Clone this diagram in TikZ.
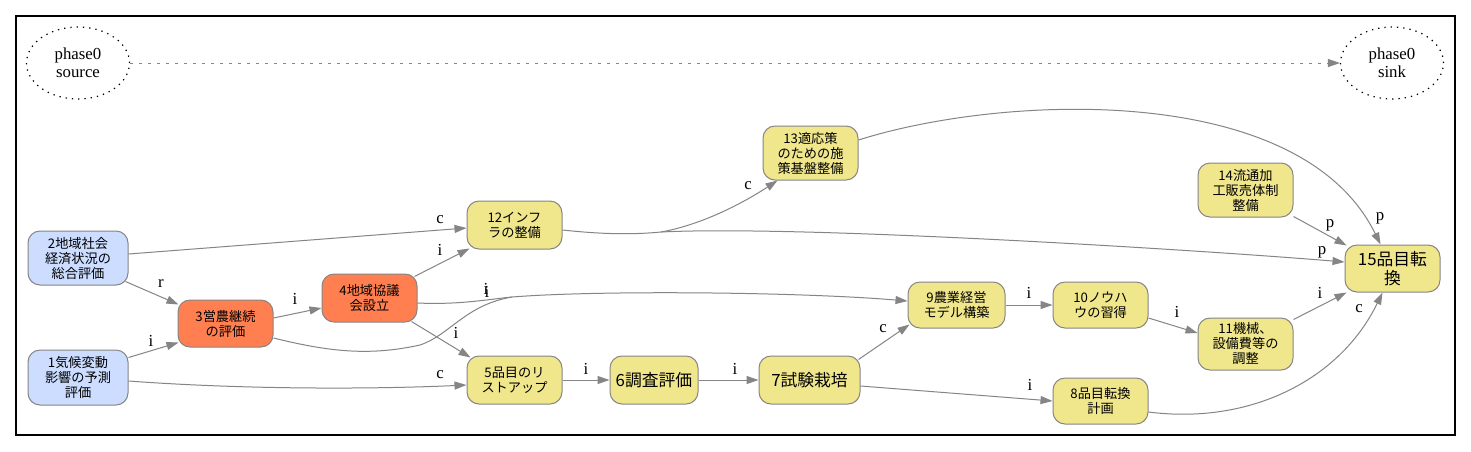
\documentclass[tikz,border=0pt]{standalone}
\usepackage{fontspec}
\setmainfont{Liberation Serif}
\newfontfamily\jpfont{Noto Sans CJK JP}
\usetikzlibrary{arrows.meta,shapes.geometric}
\definecolor{nblue}{HTML}{CCDDFF}
\definecolor{norange}{HTML}{FF7F50}
\definecolor{nyellow}{HTML}{F0E68C}
\definecolor{ngray}{HTML}{858585}
\tikzset{
  box/.style={draw=ngray, line width=1pt, rounded corners=12pt, align=center,
    font=\jpfont\fontsize{13.2}{15}\selectfont, inner sep=0pt,
    minimum width=95pt, minimum height=48pt},
  bigbox/.style={box, font=\jpfont\fontsize{16.8}{19}\selectfont},
  bluebox/.style={fill=nblue},
  orangebox/.style={fill=norange},
  yellowbox/.style={fill=nyellow},
  edge/.style={draw=ngray, line width=1pt, -{Triangle[length=12pt,width=8pt]}},
  plainline/.style={draw=ngray, line width=1pt},
  lbl/.style={font=\fontsize{16.8}{18}\selectfont, inner sep=0pt},
  phase/.style={ellipse, draw=black, line width=1.2pt, dash pattern=on 1.3pt off 5pt,
    align=center, font=\fontsize{16.8}{18}\selectfont, inner sep=0pt,
    minimum width=103pt, minimum height=72pt},
  dotedge/.style={draw=ngray, line width=1pt, dash pattern=on 3pt off 6pt,
    -{Triangle[length=12pt,width=8pt]}},
}
\begin{document}
\begin{tikzpicture}[x=1pt,y=-1pt]
\useasboundingbox (0,0) rectangle (1471,451);
\fill[white] (0,0) rectangle (1471,451);
\draw[line width=1.2pt] (16,16) rectangle (1455,435);

% phase nodes
\node[phase] (src) at (78,63) {phase0\\source};
\node[phase] (snk) at (1392,63) {phase0\\sink};
\draw[dotedge] (src) -- (snk);

% process nodes
\node[box,bluebox,minimum width=100pt,minimum height=54pt] (n2) at (78,258) {2地域社会\\経済状況の\\総合評価};
\node[box,bluebox,minimum width=100pt,minimum height=55pt] (n1) at (78,377.5) {1気候変動\\影響の予測\\評価};
\node[box,orangebox,minimum height=47pt] (n3) at (225.5,323.5) {3営農継続\\の評価};
\node[box,orangebox] (n4) at (369.5,298) {4地域協議\\会設立};
\node[box,yellowbox] (n12) at (514.5,225) {12インフ\\ラの整備};
\node[box,yellowbox] (n5) at (514.5,380) {5品目のリ\\ストアップ};
\node[bigbox,yellowbox,minimum width=88pt] (n6) at (654,380) {6調査評価};
\node[bigbox,yellowbox,minimum width=101pt] (n7) at (809.5,380) {7試験栽培};
\node[box,yellowbox,minimum height=54pt] (n13) at (810.5,153) {13適応策\\のための施\\策基盤整備};
\node[box,yellowbox,minimum width=97pt,minimum height=46pt] (n9) at (956.5,305) {9農業経営\\モデル構築};
\node[box,yellowbox,minimum height=46pt] (n10) at (1100.5,305) {10ノウハ\\ウの習得};
\node[box,yellowbox,minimum height=46pt] (n8) at (1100.5,401) {8品目転換\\計画};
\node[box,yellowbox,minimum height=52pt] (n11) at (1245.5,344) {11機械、\\設備費等の\\調整};
\node[box,yellowbox,minimum height=54pt] (n14) at (1245.5,190) {14流通加\\工販売体制\\整備};
\node[bigbox,yellowbox,minimum height=47pt] (n15) at (1392.5,268.5) {15品目転\\換};

% merge points
\coordinate (m1) at (512,297);
\coordinate (m2) at (661,232);

% edges
\draw[edge] ([yshift=4pt]n2.east) -- ([yshift=-3pt]n12.west);
\draw[edge] ([xshift=-3pt,yshift=4pt]n2.south east) -- ([xshift=1pt,yshift=-5pt]n3.north west);
\draw[edge] ([yshift=-8pt]n1.north east) -- ([xshift=1pt,yshift=5pt]n3.south west);
\draw[edge] ([yshift=-3.5pt]n1.east) .. controls (250,390) and (380,389) .. ([yshift=-5pt]n5.west);
\draw[edge] ([yshift=5.5pt]n3.east) -- ([yshift=-10pt]n4.west);
\draw[plainline] ([yshift=-14.5pt]n3.east) .. controls (330,352) and (370,356) .. (420,345)
   .. controls (450,335) and (465,305) .. (m1);
\draw[plainline] ([yshift=-5pt]n4.east) .. controls (460,305) and (490,299) .. (m1);
\draw[edge] (m1) .. controls (600,290) and (800,292) .. ([yshift=4pt]n9.west);
\draw[edge] ([xshift=-3pt,yshift=-3pt]n4.north east) -- ([xshift=3pt,yshift=1pt]n12.south west);
\draw[edge] ([xshift=-6pt,yshift=1pt]n4.south east) -- ([xshift=4pt,yshift=-2pt]n5.north west);
\draw[edge] (n5.east) -- (n6.west);
\draw[edge] (n6.east) -- (n7.west);
\draw[edge] ([xshift=-2pt,yshift=-4pt]n7.north east) -- ([xshift=2pt,yshift=4pt]n9.south west);
\draw[edge] ([yshift=-6pt]n7.east) -- (n8.west);
\draw[edge] (n9.east) -- (n10.west);
\draw[edge] ([yshift=-13pt]n10.east) -- ([yshift=11pt]n11.west);
\draw[edge] ([yshift=-2pt]n11.north east) -- ([xshift=2pt]n15.south west);
\draw[edge] ([yshift=1pt]n14.south east) -- ([xshift=2pt,yshift=-1pt]n15.north west);
\draw[plainline] ([yshift=-5pt]n12.east) .. controls (600,234) and (630,235) .. (m2);
\draw[edge] (m2) .. controls (700,225) and (740,205) .. ([xshift=15pt]n13.south west);
\draw[edge] (m2) .. controls (800,225) and (1200,250) .. ([yshift=6.5pt]n15.west);
\draw[edge] ([yshift=13pt]n13.east) .. controls (1000,95) and (1300,80) .. ([xshift=-12pt]n15.north);
\draw[edge] ([yshift=-11pt]n8.east) .. controls (1250,425) and (1340,380) .. ([xshift=-10pt]n15.south);

% labels
\node[lbl] (l2a) at (440,220) {c};
\node[lbl] (l2b) at (161,284) {r};
\node[lbl] (l1a) at (151,341) {i};
\node[lbl] (l1b) at (440,375) {c};
\node[lbl] (l3a) at (295,299) {i};
\node[lbl] (l4a) at (440,250) {i};
\node[lbl] (l4b) at (486,289) {i};
\node[lbl] (l3b) at (487,292) {i};
\node[lbl] (l4c) at (456,333) {i};
\node[lbl] (l5a) at (586,369) {i};
\node[lbl] (l6a) at (735,369) {i};
\node[lbl] (l7a) at (883,329) {c};
\node[lbl] (l7b) at (1030,385) {i};
\node[lbl] (l9a) at (1029,293) {i};
\node[lbl] (l10a) at (1177,312) {i};
\node[lbl] (l11a) at (1320,293) {i};
\node[lbl] (l8a) at (1359,309) {c};
\node[lbl] (l14a) at (1330,225) {p};
\node[lbl] (l13a) at (1380,218) {p};
\node[lbl] (l12a) at (1322,252) {p};
\node[lbl] (l12b) at (748,186) {c};
\end{tikzpicture}
\end{document}
